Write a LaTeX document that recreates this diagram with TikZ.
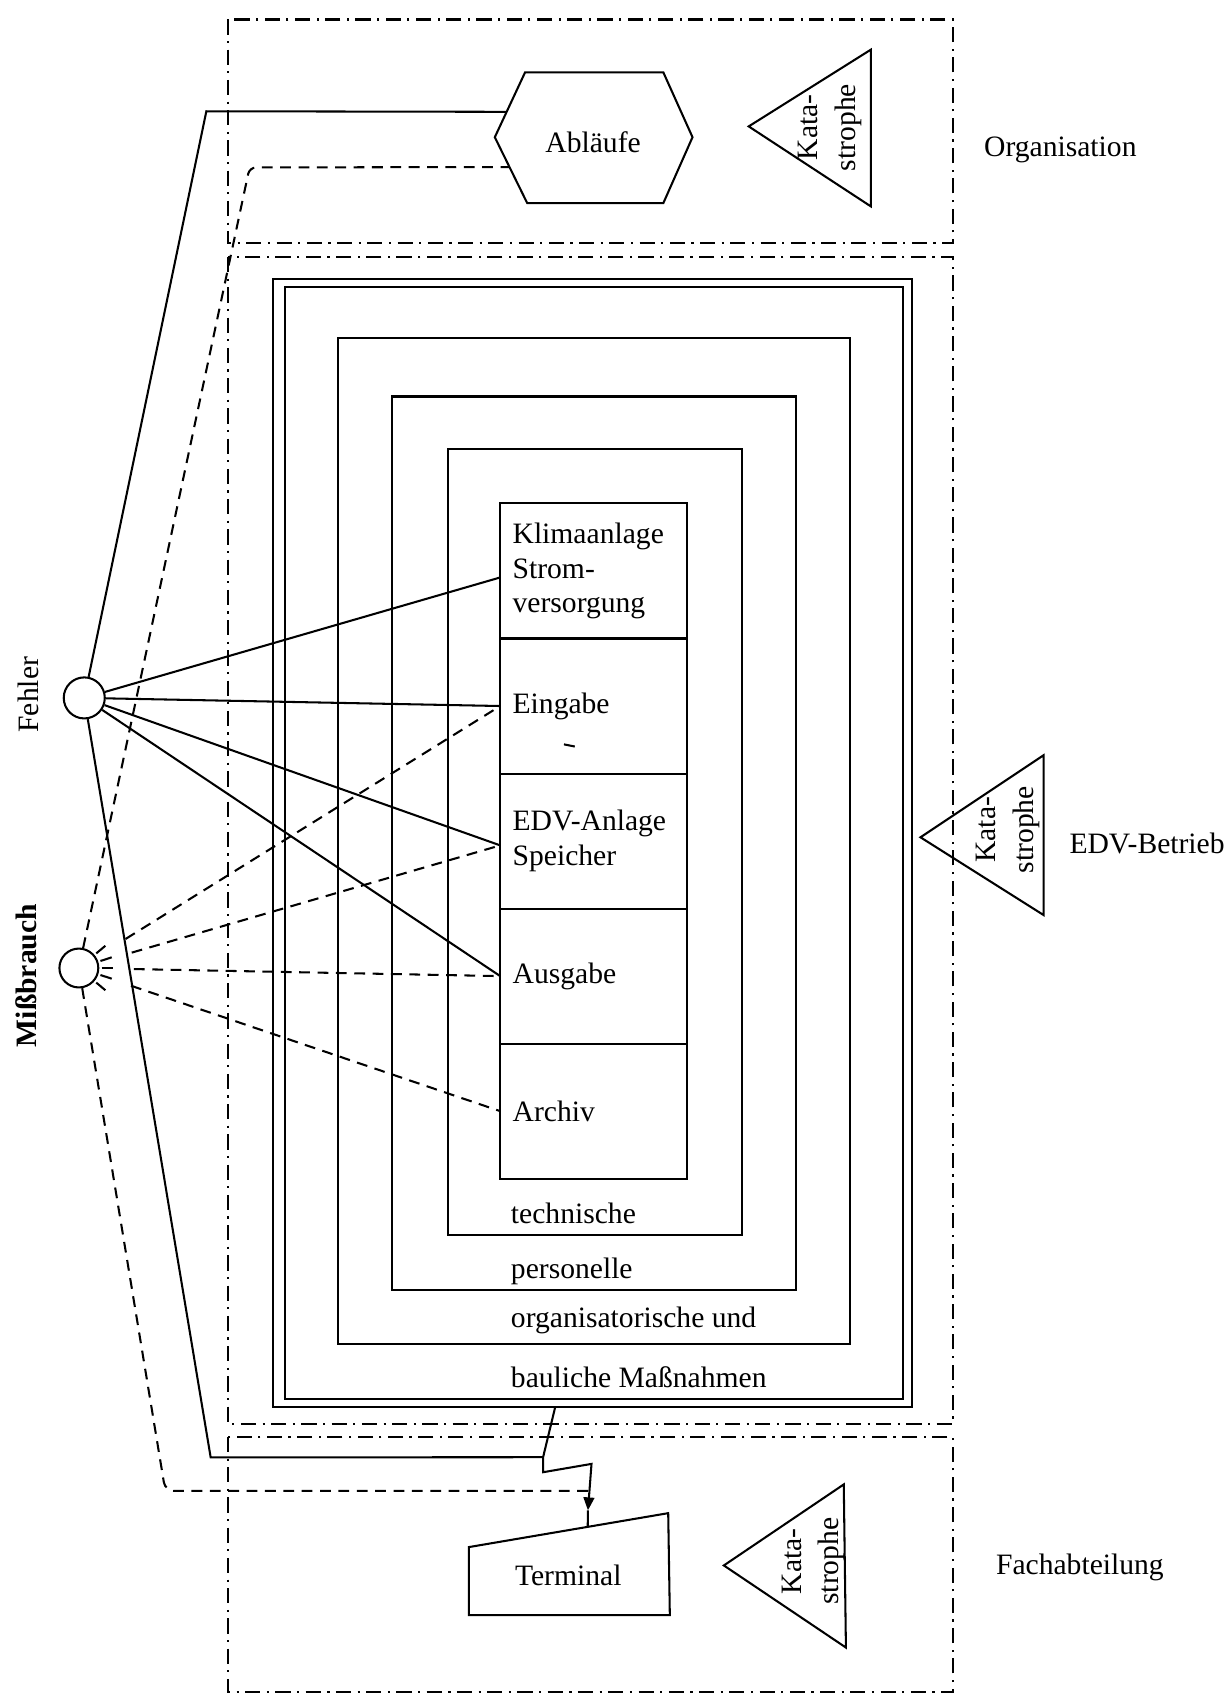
\documentclass[tikz,border=0pt]{standalone}
\usepackage{fontspec}
\setmainfont{Liberation Serif}
\usetikzlibrary{arrows.meta}

\newcommand{\diafont}{\fontsize{13.7}{16}\selectfont}

\begin{document}
\begin{tikzpicture}[x=0.5pt, y=-0.5pt, line width=0.95pt, font=\diafont,
    zone/.style={line width=1pt, dash pattern=on 7pt off 3pt on 1pt off 3pt},
    misuse/.style={dash pattern=on 5pt off 3.5pt},
    cell/.style={draw, rectangle, outer sep=0pt, minimum width=86.5pt,
        minimum height=62.5pt, text width=75pt, inner xsep=5.5pt, align=left},
    kata/.style={rotate=90, align=center, inner sep=0pt, font=\fontsize{13.7}{17.5}\selectfont},
    source/.style={draw, circle, inner sep=0pt},
    measure/.style={anchor=west, inner sep=0pt}]

    \useasboundingbox[fill=white] (0,0) rectangle (1138,1568);

    % Zones (dash-dot)
    \draw[zone] (211,18) rectangle (882,225);
    \draw[zone] (211,238) rectangle (882,1318);
    \draw[zone] (211,1330) rectangle (882,1566);
    \node[anchor=west, inner sep=0pt] (org) at (910,139) {Organisation};
    \node[anchor=west, inner sep=0pt] (edvbetrieb) at (989,781) {EDV-Betrieb};
    \node[anchor=west, inner sep=0pt] (fach) at (921,1451) {Fachabteilung};

    % Organisation: Ablaeufe hexagon and catastrophe
    \draw (458,127) -- (486,67) -- (614,67) -- (641,127) -- (614,188) -- (488,188) -- cycle;
    \node (ablaeufe) at (549,132) {Abläufe};
    \coordinate (abl-a) at (469,103.5);
    \coordinate (abl-b) at (471.6,154.6);
    \draw (693,117) -- (806,46) -- (806,191) -- cycle;
    \node[kata] (kata1) at (768,118) {Kata-\\strophe};

    % Nested measures
    \draw (253,258) rectangle (844,1302);
    \draw (264,266) rectangle (836,1295);
    \draw (313,313) rectangle (787,1244);
    \draw (363,367) rectangle (737,1194);
    \draw (415,416) rectangle (687,1143);
    \node[measure] (tech) at (472,1123) {technische};
    \node[measure] (pers) at (472,1177) {personelle};
    \node[measure] (orgm) at (472,1222) {organisatorische und};
    \node[measure] (baul) at (472,1275) {bauliche Maßnahmen};

    % Inner column
    \node[cell] (klima) at (549.5,528.5) {Klimaanlage\\Strom-\\versorgung};
    \node[cell] (eingabe) at (549.5,653.5) {Eingabe};
    \node[cell] (edv) at (549.5,778.5) {EDV-Anlage\\Speicher};
    \node[cell] (ausgabe) at (549.5,903.5) {Ausgabe};
    \node[cell] (archiv) at (549.5,1028.5) {Archiv};
    \draw (522,689) -- (532,691);

    % EDV catastrophe
    \draw (852,775) -- (966,699) -- (966,847) -- cycle;
    \node[kata] (kata2) at (933,768) {Kata-\\strophe};

    % Fachabteilung: terminal and catastrophe
    \draw (434,1432) -- (618.5,1400.6) -- (620,1495) -- (434,1495) -- cycle;
    \node (terminal) at (526,1458) {Terminal};
    \coordinate (term-in) at (544,1413);
    \draw (670,1449) -- (781,1374) -- (783,1525) -- cycle;
    \node[kata] (kata3) at (753,1445) {Kata-\\strophe};

    % Threat sources
    \node[source, minimum size=19pt] (fehler) at (78,646) {};
    \node[rotate=90, inner sep=0pt] (fehlerlbl) at (26,643) {Fehler};
    \node[source, minimum size=18pt] (missbrauch) at (73,896) {};
    \node[rotate=90, inner sep=0pt, font=\diafont\bfseries] (missbrauchlbl) at (24,903) {Mißbrauch};
    \foreach \a in {-40,-18,0,18,40}
        \draw (missbrauch.center) ++(\a:21) -- ++(\a:11);

    % Lightning link to terminal
    \coordinate (outer-out) at (514,1302);
    \coordinate (lz-b) at (502.7,1348.8);
    \coordinate (lz-d) at (545.6,1380);
    \draw (outer-out) -- (lz-b) -- (502.7,1362.7) -- (547.5,1355) -- (lz-d);
    \draw[-{Triangle[length=6pt, width=5pt]}] (lz-d) -- (544.2,1398);
    \draw (544.2,1398) -- (term-in);

    % Fehler connectors
    \draw (fehler) -- (191,103) -- (abl-a);
    \draw (fehler) -- ([yshift=-3pt]klima.west);
    \draw (fehler) -- (eingabe.west);
    \draw (fehler) -- ([yshift=-2pt]edv.west);
    \draw (fehler) -- (ausgabe.west);
    \draw (fehler) -- (195,1349) -- (lz-b);

    % Missbrauch connectors
    \draw[misuse, rounded corners=3pt] (missbrauch) -- (231,155) -- (abl-b);
    \draw[misuse, shorten <=16pt] (missbrauch) -- (eingabe.west);
    \draw[misuse, shorten <=16pt] (missbrauch) -- ([yshift=-2pt]edv.west);
    \draw[misuse, shorten <=16pt] (missbrauch) -- (ausgabe.west);
    \draw[misuse, shorten <=16pt] (missbrauch) -- (archiv.west);
    \draw[misuse, rounded corners=4pt] (missbrauch) -- (153,1380) -- (lz-d);

\end{tikzpicture}
\end{document}
